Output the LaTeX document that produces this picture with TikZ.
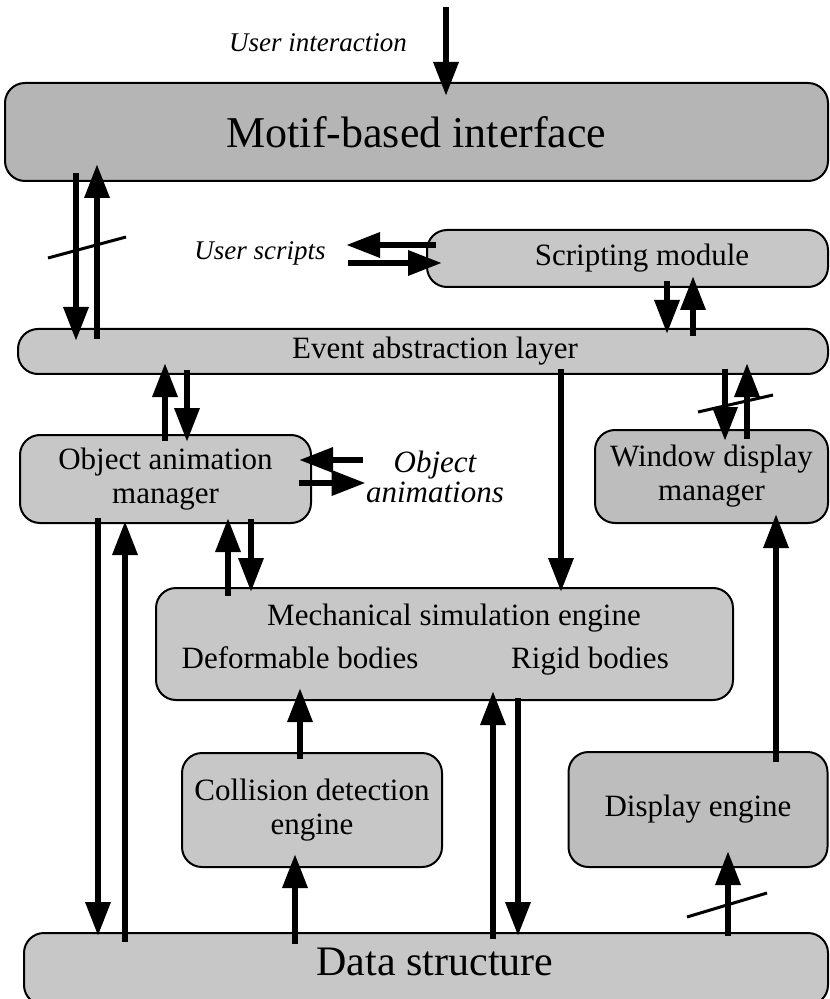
\documentclass[tikz,border=0pt]{standalone}
\usepackage{fontspec}
\setmainfont{Liberation Serif}
\usetikzlibrary{arrows.meta}

\begin{document}
\begin{tikzpicture}[x=0.5pt,y=-0.5pt,>={Triangle[length=17pt,width=12pt]},
  box/.style={draw,line width=1pt,rounded corners=10pt,fill=black!22,inner sep=0pt,
    align=center,font=\fontsize{15.5}{17}\selectfont},
  arr/.style={->,line width=3.2pt},
  slash/.style={line width=1.5pt},
  note/.style={inner sep=0pt,align=center,font=\itshape\fontsize{13.5}{16}\selectfont}]
  \useasboundingbox (0,0) rectangle (829,999);
  % Modules
  \node[box,fill=black!29,minimum width=411.5pt,minimum height=49pt,
    font=\fontsize{22}{26}\selectfont] (motif) at (416.5,132) {Motif-based interface};
  \node[box,minimum width=200.5pt,minimum height=28.5pt] (script) at (627.5,258.5)
    {\hspace*{14.5pt}Scripting module};
  \node[box,minimum width=405pt,minimum height=22.5pt] (event) at (423,351.5)
    {\hspace*{12pt}Event abstraction layer};
  \node[box,minimum width=145.5pt,minimum height=44pt] (obj) at (165.5,479)
    {Object animation\\manager};
  \node[box,fill=black!26,minimum width=116.5pt,minimum height=46.5pt] (window) at (711.5,476.5)
    {Window display\\manager};
  \node[box,minimum width=288.5pt,minimum height=56pt] (mech) at (444.5,644) {};
  \node[inner sep=0pt,font=\fontsize{15.5}{17}\selectfont] (mechtxt) at (454,618) {Mechanical simulation engine};
  \node[inner sep=0pt,anchor=base,font=\fontsize{15.5}{17}\selectfont] (deform) at (300,668) {Deformable bodies};
  \node[inner sep=0pt,anchor=base,font=\fontsize{15.5}{17}\selectfont] (rigid) at (590,668) {Rigid bodies};
  \node[box,minimum width=130pt,minimum height=57pt] (coll) at (312,810)
    {Collision detection\\engine};
  \node[box,fill=black!26,minimum width=129.5pt,minimum height=57.5pt] (disp) at (698,809.5)
    {Display engine};
  \node[box,minimum width=402pt,minimum height=36pt] (data) at (426,969) {};
  \node[inner sep=0pt,font=\fontsize{21}{25}\selectfont] (datatxt) at (435,962) {Data structure};
  % Outside inputs
  \node[note] (uint) at (318,43) {User interaction};
  \node[note] (uscr) at (260,253) {User scripts};
  \node[note,font=\itshape\fontsize{15.5}{15}\selectfont] (anim) at (435,477) {Object\\animations};
  \coordinate (ui) at (446,7);
  \draw[arr,shorten >=-7pt] (ui) -- (motif.north -| ui);
  % Interface and event layer
  \draw[arr,shorten <=-4.5pt,shorten >=-6.5pt] (motif.south -| 76,0) -- (event.north -| 76,0);
  \draw[arr,shorten <=-5.5pt,shorten >=-9pt] (event.north -| 97,0) -- (motif.south -| 97,0);
  \draw[slash] (48,258) -- (126,237);
  % Scripts
  \draw[arr,shorten <=-5pt,shorten >=10pt] (script.west |- 0,245) -- (uscr.east |- 0,245);
  \draw[arr,shorten <=11pt,shorten >=-8pt] (uscr.east |- 0,263) -- (script.west |- 0,263);
  \draw[arr,shorten <=-3.5pt,shorten >=-3pt] (script.south -| 667,0) -- (event.north -| 667,0);
  \draw[arr,shorten <=-4pt,shorten >=-6pt] (event.north -| 693,0) -- (script.south -| 693,0);
  % Animation manager
  \draw[arr,shorten <=-3.5pt,shorten >=-6pt] (obj.north -| 165,0) -- (event.south -| 165,0);
  \draw[arr,shorten <=-2.5pt,shorten >=-4pt] (event.south -| 187,0) -- (obj.north -| 187,0);
  \draw[arr,shorten <=1.5pt,shorten >=-6.5pt] (anim.west |- 0,460) -- (obj.east |- 0,460);
  \draw[arr,shorten <=-6.5pt] (obj.east |- 0,483) -- (anim.west |- 0,483);
  \draw[arr,shorten <=-3pt,shorten >=-2pt] (obj.south -| 98,0) -- (data.north -| 98,0);
  \draw[arr,shorten <=-5pt,shorten >=-1.5pt] (data.north -| 125,0) -- (obj.south -| 125,0);
  \draw[arr,shorten <=-4.5pt,shorten >=-3pt] (mech.north -| 228,0) -- (obj.south -| 228,0);
  \draw[arr,shorten <=-2.5pt,shorten >=-2.5pt] (obj.south -| 251,0) -- (mech.north -| 251,0);
  % Simulation
  \draw[arr,shorten <=-3pt,shorten >=-2.5pt] (event.south -| 561,0) -- (mech.north -| 561,0);
  \draw[arr,shorten <=-3.5pt,shorten >=-6.5pt] (coll.north -| 300,0) -- (mech.south -| 300,0);
  \draw[arr,shorten <=-6pt,shorten >=-7pt] (data.north -| 295,0) -- (coll.south -| 295,0);
  \draw[arr,shorten <=-3.5pt,shorten >=-5pt] (data.north -| 493,0) -- (mech.south -| 493,0);
  \draw[arr,shorten <=-1.5pt,shorten >=-2pt] (mech.south -| 518,0) -- (data.north -| 518,0);
  % Display
  \draw[arr,shorten <=-3pt,shorten >=-6pt] (event.south -| 725,0) -- (window.north -| 725,0);
  \draw[arr,shorten <=-5pt,shorten >=-6pt] (window.north -| 747,0) -- (event.south -| 747,0);
  \draw[slash] (698,412) -- (773,395);
  \draw[arr,shorten <=-2pt,shorten >=-8.5pt] (data.north -| 728,0) -- (disp.south -| 728,0);
  \draw[slash] (687,917) -- (767,893);
  \draw[arr,shorten <=-5.5pt,shorten >=-5pt] (disp.north -| 776,0) -- (window.south -| 776,0);
\end{tikzpicture}
\end{document}
